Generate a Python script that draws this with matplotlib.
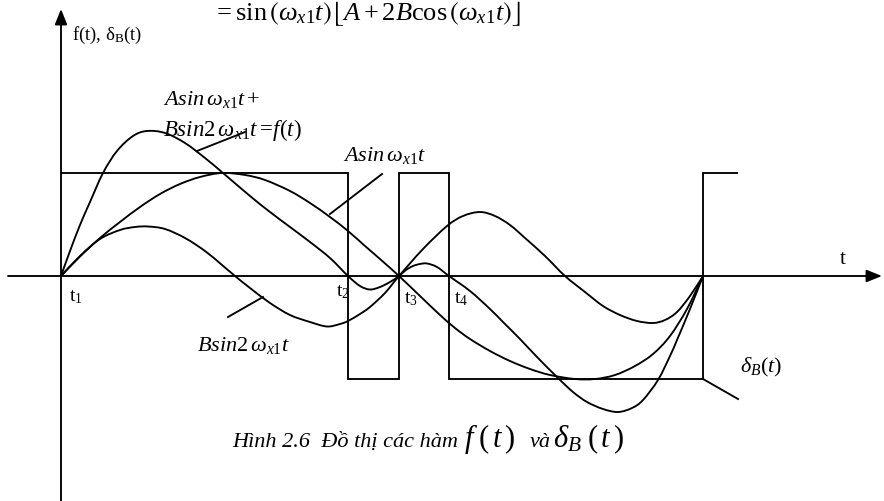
import numpy as np
import matplotlib.pyplot as plt
from matplotlib.path import Path
from matplotlib.patches import PathPatch

plt.rcParams['font.family'] = ['Liberation Serif', 'DejaVu Serif']
plt.rcParams['mathtext.fontset'] = 'custom'
plt.rcParams['mathtext.rm'] = 'Liberation Serif'
plt.rcParams['mathtext.it'] = 'Liberation Serif:italic'
plt.rcParams['mathtext.bf'] = 'Liberation Serif:bold'
plt.rcParams['mathtext.fallback'] = 'stix'

# t runs over one period of omega_x1 (0 .. 642), amplitudes in the same units
F_T = [0, 9, 19, 29, 42, 56, 72, 86, 104, 124, 144, 162, 189, 209, 229, 249,
       269, 287, 299, 309, 319, 329, 338, 345, 352, 359, 366, 376, 388, 409,
       429, 442, 459, 476, 497, 512, 526, 542, 557, 571, 582, 597, 609, 616, 629, 642]
F_V = [0, 25, 51, 74, 103, 125, 140, 145, 143, 133, 118, 103, 80, 64, 49, 34,
       18, 0, -10, -13.5, -11, -6, 0, 6, 10, 12, 12.5, 9, 0, -15,
       -33, -46, -63, -81, -102, -116, -126, -133, -136, -132, -124, -104, -80, -64, -33, 0]

A_T = [0, 19, 39, 59, 79, 99, 119, 139, 161, 184, 204, 229, 249, 269, 287, 304,
       319, 338, 359, 379, 394, 409, 429, 449, 469, 489, 514, 534, 554, 574,
       592, 609, 626, 642]
A_V = [0, 19.5, 38, 54, 69, 82, 92, 99, 103, 101, 96, 85, 73, 59, 45, 30,
       17, 0, -20, -39, -52, -63, -75, -85, -93, -99, -103, -103, -99, -90,
       -78, -60, -33, 0]

B_T = [0, 19, 39, 59, 74, 87, 104, 124, 144, 161, 174, 189, 209, 229, 249, 266,
       279, 287, 299, 309, 324, 338, 362, 386, 402, 419, 434, 449, 464, 484,
       504, 524, 542, 559, 576, 592, 604, 616, 629, 642]
B_V = [0, 20, 37, 46, 49, 49.5, 47, 38, 25, 11, 0, -12, -27, -39, -46, -50.5,
       -48, -45, -38, -31, -17, 0, 27, 50, 60, 64, 60, 51, 38, 20,
       0, -16, -30, -39, -45, -47, -44, -36, -20, 0]

# delta_B(t) = sign of f(t)
DELTA_EDGES = [0, 287, 338, 388, 642, 677]
DELTA_LEVELS = [103, -103, 103, -103, 103]

ZERO_NAMES = [r'$\mathrm{t}_1$', r'$\mathrm{t}_2$', r'$\mathrm{t}_3$', r'$\mathrm{t}_4$']

LW = 1.35
INK = 'black'


def smooth_curve(xs, ys):
    # Catmull-Rom through the samples, drawn as cubic Bezier segments
    p = np.column_stack([xs, ys]).astype(float)
    p = np.vstack([p[0], p, p[-1]])
    verts = [p[1]]
    codes = [Path.MOVETO]
    for i in range(1, len(p) - 2):
        c1 = p[i] + (p[i + 1] - p[i - 1]) / 6
        c2 = p[i + 1] - (p[i + 2] - p[i]) / 6
        verts += [c1, c2, p[i + 1]]
        codes += [Path.CURVE4] * 3
    return PathPatch(Path(verts, codes), fill=False, color=INK, lw=LW,
                     capstyle='round', joinstyle='round')


fig = plt.figure(figsize=(8.84, 5.02), dpi=100)
ax = fig.add_axes([0, 0, 1, 1])
ax.set_xlim(-61, 823)
ax.set_ylim(-225, 277)
ax.axis('off')

arrow = dict(arrowstyle='-|>,head_length=0.55,head_width=0.22', mutation_scale=17,
             lw=LW, color=INK, shrinkA=0, shrinkB=0)
ax.annotate('', xy=(821, 0), xytext=(-53, 0), arrowprops=arrow)
ax.annotate('', xy=(0, 267), xytext=(0, -225), arrowprops=arrow)

for ts, vs in [(F_T, F_V), (A_T, A_V), (B_T, B_V)]:
    ax.add_patch(smooth_curve(ts, vs))
ax.stairs(DELTA_LEVELS, DELTA_EDGES, baseline=None, color=INK, lw=LW)

# leader lines from the labels to their curves
leaders = [((136, 125), (184, 144)),
           ((269, 62), (321, 102)),
           ((202, -21), (167, -41)),
           ((642, -103), (677, -123))]
for (x0, y0), (x1, y1) in leaders:
    ax.plot([x0, x1], [y0, y1], color=INK, lw=LW)

offsets = [(15, -20), (282, -15), (350, -22), (400, -22)]
for name, (x, y) in zip(ZERO_NAMES, offsets):
    ax.text(x, y, name, fontsize=14, ha='center', va='center')

ax.text(782, 17, 't', fontsize=15, ha='center', va='center')
ax.text(11, 242, r'f(t), $\mathrm{\delta_B}$(t)', fontsize=13.5, ha='left', va='center')

ax.text(102, 178, r'$Asin\,\omega_{x\mathit{1}}t+$', fontsize=16, ha='left', va='center')
ax.text(102, 147, r'$Bsin\mathit{2}\,\omega_{x\mathit{1}}t\,\!=\!f(t)$', fontsize=16.5,
        ha='left', va='center')
ax.text(282, 122, r'$Asin\,\omega_{x\mathit{1}}t$', fontsize=16, ha='left', va='center')
ax.text(136, -69, r'$Bsin\mathit{2}\,\omega_{x\mathit{1}}t$', fontsize=16, ha='left',
        va='center')
ax.text(679, -90, r'$\delta_B(t)$', fontsize=16, ha='left', va='center')

ax.text(152, 257,
        r'$=\sin\left(\omega_{x1}t\right)\left\lfloor A+2B\cos\left(\omega_{x1}t\right)\right\rfloor$',
        fontsize=19, ha='left', va='baseline')

ax.text(171, -170, 'H\u00ecnh 2.6  \u0110\u1ed3 th\u1ecb c\u00e1c h\u00e0m', fontsize=16,
        style='italic', ha='left', va='baseline')
ax.text(403, -170, r'$f\;(\,t\,)$', fontsize=22, ha='left', va='baseline')
ax.text(469, -170, 'v\u00e0', fontsize=16, style='italic', ha='left', va='baseline')
ax.text(492, -170, r'$\delta_B\;(\,t\,)$', fontsize=22, ha='left', va='baseline')

fig.savefig('out.png', dpi=100)
